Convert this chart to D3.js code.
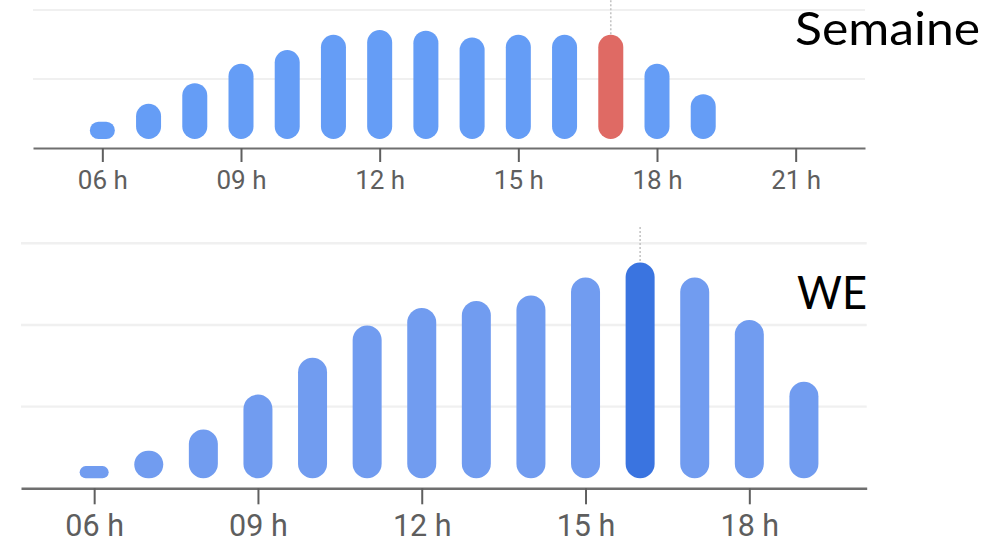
<!DOCTYPE html>
<html>
<head>
<meta charset="utf-8">
<script src="https://cdn.jsdelivr.net/npm/d3@7"></script>
<style>
  html, body { margin: 0; padding: 0; background: #fff; }
  svg { display: block; }
</style>
</head>
<body>
<svg id="chart" width="1007" height="543"></svg>
<script>
// ---- data ----
const hours = [6, 7, 8, 9, 10, 11, 12, 13, 14, 15, 16, 17, 18, 19];
const weekValues = [19, 32, 47, 61, 71, 82, 85.5, 85, 80, 82, 82, 82, 61, 39];
const weekendValues = [6.8, 11.5, 18, 28.7, 40, 49.8, 55.2, 57.3, 59, 64.5, 69.1, 64.5, 51.5, 32.6];
const weekTicks = [6, 9, 12, 15, 18, 21];
const weekendTicks = [6, 9, 12, 15, 18];
const weekGrid = [50, 100];
const weekendGrid = [25, 50, 75];
const weekHighlight = 17;
const weekendHighlight = 16;
const weekLabel = "Semaine";
const weekendLabel = "WE";

const svg = d3.select("#chart");

function drawPanel(cfg) {
  const g = svg.append("g");
  const x = d3.scaleLinear().domain(cfg.xDomain).range(cfg.xRange);
  const y = d3.scaleLinear().domain(cfg.yDomain).range(cfg.yRange);

  // gridlines
  g.selectAll("line.grid").data(cfg.grid).enter().append("line")
    .attr("x1", cfg.xRange[0]).attr("x2", cfg.xRange[1])
    .attr("y1", d => y(d)).attr("y2", d => y(d))
    .attr("stroke", "#f0f0f0").attr("stroke-width", cfg.gridW);

  // dotted highlight line
  const hiIdx = hours.indexOf(cfg.highlight);
  g.append("line")
    .attr("x1", x(cfg.highlight)).attr("x2", x(cfg.highlight))
    .attr("y1", y(cfg.dotTop)).attr("y2", y(cfg.values[hiIdx]))
    .attr("stroke", "#c4c4c4").attr("stroke-width", 1.6)
    .attr("stroke-dasharray", "2,2");

  // bars
  const bw = cfg.barW;
  const bottom = y(0) - cfg.gap;
  g.selectAll("rect.bar").data(hours.map((h, i) => ({h, v: cfg.values[i]})))
    .enter().append("rect")
    .attr("x", d => x(d.h) - bw / 2)
    .attr("y", d => y(d.v))
    .attr("width", bw)
    .attr("height", d => Math.max(0, bottom - y(d.v)))
    .attr("rx", d => Math.min(bw, bottom - y(d.v)) / 2)
    .attr("ry", d => Math.min(bw, bottom - y(d.v)) / 2)
    .attr("fill", d => d.h === cfg.highlight ? cfg.hiColor : cfg.color);

  // axis
  const axis = d3.axisBottom(x).tickValues(cfg.ticks)
    .tickFormat(d => String(d).padStart(2, "0") + " h")
    .tickSize(cfg.tickLen).tickPadding(cfg.tickPad).tickSizeOuter(0);
  const ax = g.append("g").attr("transform", `translate(0,${y(0)})`).call(axis);
  ax.select(".domain").attr("stroke", "#6f6f6f").attr("stroke-width", cfg.axisW);
  ax.selectAll(".tick line").attr("stroke", "#5f5f5f").attr("stroke-width", 2);
  ax.selectAll(".tick text")
    .attr("fill", "#5e5e5e")
    .style("font-family", "Roboto, Arial, sans-serif")
    .style("font-size", cfg.fontSize + "px");

  // label
  g.append("text")
    .attr("x", cfg.labelX).attr("y", cfg.labelY)
    .attr("textLength", cfg.labelLen).attr("lengthAdjust", "spacingAndGlyphs")
    .style("font-family", "Lato, 'Open Sans', sans-serif")
    .style("font-size", "47px")
    .attr("fill", "#000")
    .text(cfg.label);
}

drawPanel({
  values: weekValues, ticks: weekTicks, grid: weekGrid, highlight: weekHighlight,
  xDomain: [4.5, 22.5], xRange: [33, 865],
  yDomain: [0, 100], yRange: [148, 10],
  barW: 25, gap: 9, gridW: 2, axisW: 2, tickLen: 14, tickPad: 9, fontSize: 26,
  dotTop: 107,
  color: "#659df6", hiColor: "#df6a64",
  label: weekLabel, labelX: 795, labelY: 45, labelLen: 185
});

drawPanel({
  values: weekendValues, ticks: weekendTicks, grid: weekendGrid, highlight: weekendHighlight,
  xDomain: [4.66, 20.15], xRange: [21, 866.7],
  yDomain: [0, 75], yRange: [488.3, 243.3],
  barW: 29, gap: 10, gridW: 2.4, axisW: 2.4, tickLen: 16, tickPad: 10, fontSize: 30.5,
  dotTop: 80,
  color: "#719cf0", hiColor: "#3a74e0",
  label: weekendLabel, labelX: 797, labelY: 309, labelLen: 70
});
</script>
</body>
</html>
